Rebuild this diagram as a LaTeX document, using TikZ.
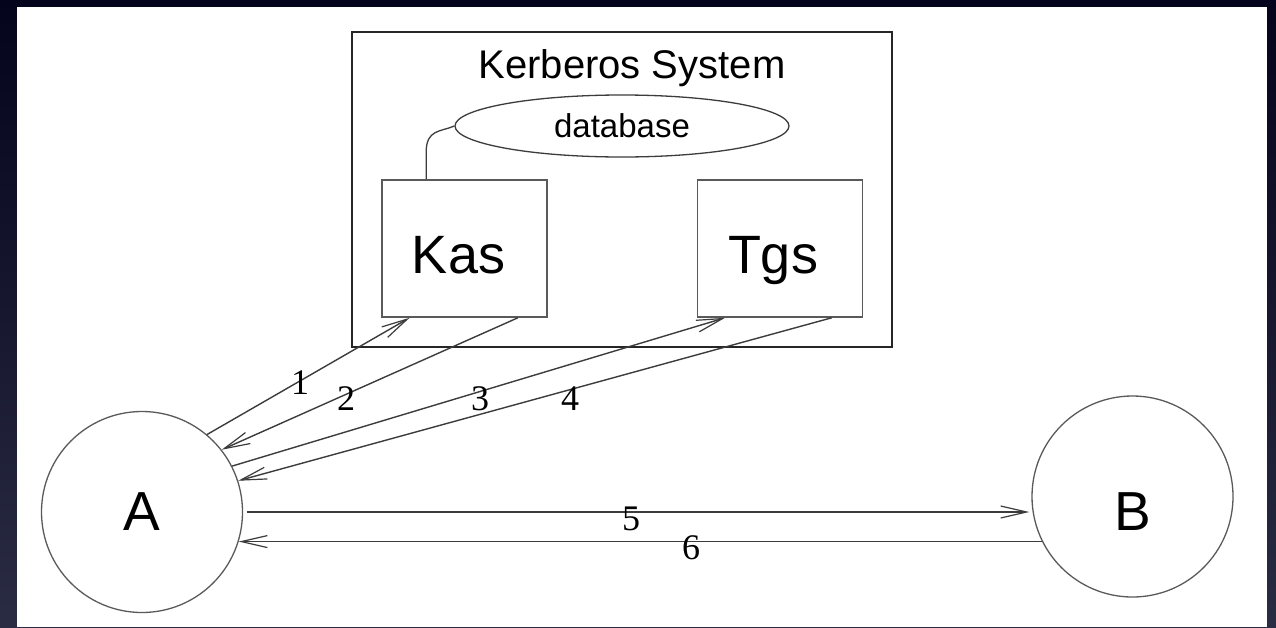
\documentclass[tikz,border=0pt]{standalone}
\usepackage{fontspec}
\setmainfont{Liberation Serif}
\newfontfamily\hv{Liberation Sans}
\usetikzlibrary{arrows.meta,calc,shapes.geometric}
\definecolor{navytop}{HTML}{04041C}
\definecolor{navybot}{HTML}{2A2C44}
\definecolor{ink}{HTML}{3C3C3C}
\definecolor{boxink}{HTML}{5A5A5A}
\begin{document}
\begin{tikzpicture}[x=1pt,y=-1pt,
  sysbox/.style={draw=black!85, line width=2.2pt, inner sep=0pt},
  srvbox/.style={draw=boxink, line width=1.6pt, minimum width=165pt, minimum height=137pt,
    inner sep=0pt, text height=60pt, text depth=11pt, font=\hv\fontsize{54}{60}\selectfont},
  party/.style={circle, draw=boxink, line width=1.3pt, minimum size=201pt, inner sep=0pt,
    font=\hv\fontsize{55}{60}\selectfont},
  msg/.style={draw=ink, line width=1.4pt,
    -{Straight Barb[length=26pt,width=12pt,line width=1.2pt]}},
  num/.style={font=\fontsize{36}{40}\selectfont, inner sep=0pt, anchor=base},
  link/.style={draw=ink, line width=1.3pt},
]
% background frame
\shade[top color=navytop, bottom color=navybot] (0,0) rectangle (1276,627);
\fill[white] (17,7) rectangle (1267,627);
\useasboundingbox (0,0) rectangle (1276,627);

% Kerberos system
\node[sysbox, minimum width=540pt, minimum height=315pt] (sys) at (622,189.5) {};
\node[font=\hv\fontsize{40}{44}\selectfont, inner sep=0pt, anchor=base] (title) at (632,78) {Kerberos System};
\node[ellipse, draw=ink, line width=1.3pt, minimum width=334pt, minimum height=62pt, inner sep=0pt,
  font=\hv\fontsize{33}{36}\selectfont] (db) at (622,126) {database};
\node[srvbox] (kas) at (464.5,248.5) {\hspace*{-12pt}Kas};
\node[srvbox] (tgs) at (780,248.5) {\hspace*{-14pt}Tgs};

% parties
\node[party] (A) at (142,512) {A};
\node[party, text height=67pt, text depth=0pt] (B) at (1132.5,496.5) {B};

% database link
\coordinate (kasdb) at ($(kas.north west)!0.27!(kas.north east)$);
\draw[link] (kasdb) -- ($(kasdb)+(0,-27)$) .. controls ($(kasdb)+(0,-50)$) and ($(db.west)+(-14,6)$) .. (db.west);

% messages
\coordinate (k1) at ($(kas.south west)!0.17!(kas.south east)$);
\coordinate (k2) at ($(kas.south west)!0.82!(kas.south east)$);
\coordinate (t1) at ($(tgs.south west)!0.17!(tgs.south east)$);
\coordinate (t2) at ($(tgs.south west)!0.81!(tgs.south east)$);
\draw[msg] (A.50.6) -- (k1);
\draw[msg] (k2) -- (A.38.5);
\draw[msg] (A.27.3) -- (t1);
\draw[msg] (t2) -- (A.18.6);
\draw[msg, shorten <=4pt, shorten >=3pt] (A.east) -- (A.east -| B.188);
\draw[msg] (A.-17.5 -| B.206) -- (A.-17.5);

% message numbers
\node[num] (n1) at (300,394) {1};
\node[num] (n2) at (346,410) {2};
\node[num] (n3) at (480,410) {3};
\node[num] (n4) at (570,410) {4};
\node[num] (n5) at (631,530) {5};
\node[num] (n6) at (691,559) {6};
\end{tikzpicture}
\end{document}
